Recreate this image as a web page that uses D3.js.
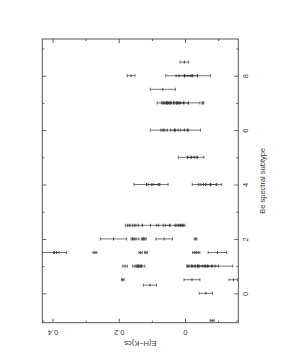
<!DOCTYPE html>
<html>
<head>
<meta charset="utf-8">
<script src="https://cdn.jsdelivr.net/npm/d3@7"></script>
<style>
  body { margin: 0; background: #fff; }
  svg text { font-family: "Liberation Sans", Arial, sans-serif; fill: #3a3a3a; }
</style>
</head>
<body>
<svg id="chart" width="281" height="363"></svg>
<script>
// Be spectral subtype of each star (plotted vertically, page is a rotated landscape plot)
const subtypes = [
  -1, 0, 0.3, 0.5, 0.5, 0.5,
  1, 1, 1, 1, 1, 1, 1, 1, 1, 1, 1, 1, 1,
  1.5, 1.5, 1.5, 1.5, 1.5, 1.5, 1.5, 1.5,
  2, 2, 2, 2, 2, 2, 2,
  2.5, 2.5, 2.5, 2.5, 2.5, 2.5, 2.5, 2.5, 2.5,
  4, 4, 4, 4, 4, 4, 4,
  5, 5, 5,
  6, 6, 6, 6, 6,
  7, 7, 7, 7, 7, 7, 7, 7, 7, 7, 7,
  7.5,
  8, 8, 8, 8, 8,
  8.5
];

// E(H-K)cs value
const eValues = [
  -0.082, -0.063, 0.106, 0.188, -0.021, -0.146,
  0.181, 0.151, 0.141, 0.136, 0.131, -0.010, -0.020, -0.030, -0.043, -0.053, -0.070, -0.081, -0.091,
  0.395, 0.388, 0.272, 0.134, 0.118, -0.028, -0.040, -0.098,
  0.216, 0.158, 0.148, 0.128, 0.121, 0.063, -0.032,
  0.173, 0.158, 0.141, 0.104, 0.066, 0.045, 0.020, 0.015, 0.007,
  0.116, 0.096, 0.076, -0.042, -0.063, -0.076, -0.094,
  -0.007, -0.018, -0.038,
  0.067, 0.063, 0.032, 0.002, -0.008,
  0.069, 0.063, 0.055, 0.050, 0.043, 0.034, 0.024, 0.015, 0.005, -0.010, -0.054,
  0.067,
  0.163, 0.018, 0.002, -0.018, -0.038,
  0.002
];

// error on E(H-K)cs
const eErrors = [
  0.006, 0.020, 0.020, 0.004, 0.024, 0.013,
  0.007, 0.007, 0.006, 0.006, 0.010, 0.005, 0.012, 0.010, 0.020, 0.015, 0.012, 0.020, 0.053,
  0.037, 0.008, 0.006, 0.005, 0.004, 0.005, 0.005, 0.028,
  0.040, 0.005, 0.009, 0.004, 0.004, 0.025, 0.004,
  0.007, 0.010, 0.012, 0.025, 0.020, 0.015, 0.010, 0.010, 0.007,
  0.038, 0.015, 0.025, 0.020, 0.015, 0.020, 0.017,
  0.027, 0.010, 0.019,
  0.038, 0.010, 0.012, 0.012, 0.039,
  0.015, 0.008, 0.010, 0.008, 0.010, 0.012, 0.010, 0.012, 0.015, 0.035, 0.003,
  0.038,
  0.012, 0.040, 0.025, 0.020, 0.039,
  0.013
];

const subtypeMajor = [0, 2, 4, 6, 8];
const subtypeMinor = [-1, 1, 3, 5, 7, 9];
const eMajor = [0, 0.2, 0.4];
const eMinor = [-0.1, 0.1, 0.3];

const stars = subtypes.map((s, i) => ({s: s, e: eValues[i], err: eErrors[i]}));

// Set up sizing constants (page coordinates of the plot frame)
const frame = {left: 42.3, right: 238.3, top: 39, bottom: 322.7};
const majorTick = 4;
const minorTick = 2;
const capSize = 1.6;
const markSize = 1.5;
const lineColor = "#3a3a3a";

// Create the scales: E decreases to the right, subtype increases upwards
const xScale = d3.scaleLinear()
  .domain([0.431, -0.161])
  .range([frame.left, frame.right]);

const yScale = d3.scaleLinear()
  .domain([-1.08, 9.35])
  .range([frame.bottom, frame.top]);

const svg = d3.select("svg#chart");

svg.append("defs").append("clipPath")
  .attr("id", "plotClip")
  .append("rect")
  .attr("x", frame.left)
  .attr("y", frame.top)
  .attr("width", frame.right - frame.left)
  .attr("height", frame.bottom - frame.top);

// Define the axis functions (ticks point into the frame)
function styleAxis(g) {
  g.select(".domain").remove();
  g.selectAll("line").attr("stroke", lineColor).attr("stroke-width", 0.8);
  g.selectAll("text").attr("font-size", 7.5).attr("fill", "#3a3a3a");
}

// bottom: E(H-K)cs with upside-down labels
svg.append("g")
  .attr("transform", "translate(0," + frame.bottom + ")")
  .call(d3.axisBottom(xScale).tickValues(eMajor).tickSize(-majorTick)
    .tickFormat(d => d === 0 ? "0" : d3.format(".1f")(d)))
  .call(styleAxis)
  .selectAll("text")
  .attr("y", 0)
  .attr("dy", 0)
  .attr("transform", "translate(0,10) rotate(180)")
  .style("text-anchor", "middle")
  .style("dominant-baseline", "central");

svg.append("g")
  .attr("transform", "translate(0," + frame.bottom + ")")
  .call(d3.axisBottom(xScale).tickValues(eMinor).tickSize(-minorTick).tickFormat(""))
  .call(styleAxis);

// top
svg.append("g")
  .attr("transform", "translate(0," + frame.top + ")")
  .call(d3.axisTop(xScale).tickValues(eMajor).tickSize(-majorTick).tickFormat(""))
  .call(styleAxis);
svg.append("g")
  .attr("transform", "translate(0," + frame.top + ")")
  .call(d3.axisTop(xScale).tickValues(eMinor).tickSize(-minorTick).tickFormat(""))
  .call(styleAxis);

// left
svg.append("g")
  .attr("transform", "translate(" + frame.left + ",0)")
  .call(d3.axisLeft(yScale).tickValues(subtypeMajor).tickSize(-majorTick).tickFormat(""))
  .call(styleAxis);
svg.append("g")
  .attr("transform", "translate(" + frame.left + ",0)")
  .call(d3.axisLeft(yScale).tickValues(subtypeMinor).tickSize(-minorTick).tickFormat(""))
  .call(styleAxis);

// right: subtype labels, rotated
svg.append("g")
  .attr("transform", "translate(" + frame.right + ",0)")
  .call(d3.axisRight(yScale).tickValues(subtypeMajor).tickSize(-majorTick))
  .call(styleAxis)
  .selectAll("text")
  .attr("x", 0)
  .attr("dy", 0)
  .attr("transform", "translate(7.5,0) rotate(-90)")
  .style("text-anchor", "middle")
  .style("dominant-baseline", "central");
svg.append("g")
  .attr("transform", "translate(" + frame.right + ",0)")
  .call(d3.axisRight(yScale).tickValues(subtypeMinor).tickSize(-minorTick).tickFormat(""))
  .call(styleAxis);

// frame
svg.append("rect")
  .attr("x", frame.left)
  .attr("y", frame.top)
  .attr("width", frame.right - frame.left)
  .attr("height", frame.bottom - frame.top)
  .attr("fill", "none")
  .attr("stroke", "#555")
  .attr("stroke-width", 1);

// axis titles
svg.append("text")
  .attr("transform", "translate(" + ((frame.left + frame.right) / 2) + ",343) rotate(180)")
  .attr("font-size", 7.5)
  .style("text-anchor", "middle")
  .style("dominant-baseline", "central")
  .text("E(H\u2212K)cs");

svg.append("text")
  .attr("transform", "translate(262," + ((frame.top + frame.bottom) / 2) + ") rotate(-90)")
  .attr("font-size", 7.5)
  .style("text-anchor", "middle")
  .style("dominant-baseline", "central")
  .text("Be spectral subtype");

// error bars
const chart = svg.append("g").attr("clip-path", "url(#plotClip)");

const bars = chart.selectAll("g.star")
  .data(stars)
  .enter()
  .append("g")
  .attr("class", "star")
  .attr("stroke", lineColor)
  .attr("stroke-width", 0.7);

bars.append("line")
  .attr("x1", d => xScale(d.e + d.err))
  .attr("x2", d => xScale(d.e - d.err))
  .attr("y1", d => yScale(d.s))
  .attr("y2", d => yScale(d.s));

bars.append("line")
  .attr("x1", d => xScale(d.e + d.err))
  .attr("x2", d => xScale(d.e + d.err))
  .attr("y1", d => yScale(d.s) - capSize)
  .attr("y2", d => yScale(d.s) + capSize);

bars.append("line")
  .attr("x1", d => xScale(d.e - d.err))
  .attr("x2", d => xScale(d.e - d.err))
  .attr("y1", d => yScale(d.s) - capSize)
  .attr("y2", d => yScale(d.s) + capSize);

// point markers
bars.append("line")
  .attr("x1", d => xScale(d.e))
  .attr("x2", d => xScale(d.e))
  .attr("y1", d => yScale(d.s) - markSize)
  .attr("y2", d => yScale(d.s) + markSize)
  .attr("stroke-width", 0.9);
</script>
</body>
</html>
